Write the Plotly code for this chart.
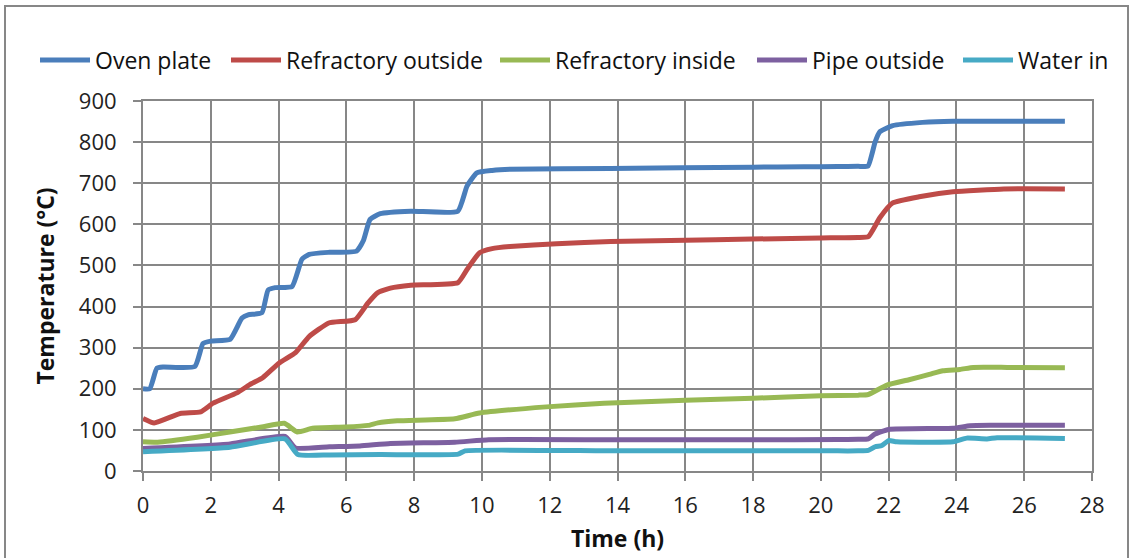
import plotly.graph_objects as go

# Measured temperatures during the heating run (time in hours, temperature in °C)
oven_plate_t = [0, 0.2, 0.41, 0.6, 1.53, 1.77, 2.0, 2.57, 2.92, 3.1, 3.51, 3.69, 3.9, 4.4, 4.69, 4.9, 5.5,
                6.3, 6.5, 6.7, 7.0, 7.9, 9.29, 9.56, 9.85, 10.3, 10.83, 13.78, 18, 19.5, 20.5, 21.1,
                21.39, 21.6, 21.74, 22.12, 23, 23.9, 27.2]
oven_plate_v = [200, 200, 250, 253, 254, 310, 316, 320, 372, 380, 385, 440, 446, 449, 515, 527, 532,
                535, 560, 612, 626, 632, 632, 693, 725, 731, 734, 736, 739, 740, 740.5, 741,
                742, 800, 825, 840, 848, 851, 851]

refractory_out_t = [0, 0.33, 1.1, 1.7, 2.07, 2.77, 3.15, 3.53, 4.02, 4.5, 4.9, 5.48, 6.26, 6.64, 6.93,
                    7.3, 7.9, 9.29, 9.56, 9.93, 10.3, 10.83, 12.2, 13.8, 20, 20.6, 21.1, 21.4, 21.74,
                    22.12, 22.9, 23.9, 25.4, 27.2]
refractory_out_v = [128, 117, 140, 144, 165, 190, 210, 227, 263, 288, 327, 360, 368, 409, 434,
                    445, 452, 458, 490, 531, 541, 546, 553, 558, 567, 567.5, 568, 570, 616,
                    652, 667, 679, 686, 686]

refractory_in_t = [0, 0.43, 1.6, 2.56, 3.5, 4.17, 4.55, 5.0, 5.97, 6.64, 6.93, 7.5, 9.2, 9.93, 11.9,
                   13.6, 16, 18, 20, 21.1, 21.4, 21.95, 22.6, 23.2, 23.6, 24.1, 24.5, 25.5, 27.2]
refractory_in_v = [71, 70, 82, 95, 107, 116, 95, 104, 107, 111, 117, 122, 127, 141, 156,
                   165, 172, 177, 183, 184.5, 186, 209, 222, 235, 244, 247, 252, 252, 251]

pipe_out_t = [0, 2.57, 4.19, 4.5, 5.5, 6.4, 7.3, 9.2, 10.2, 13.8, 18, 20.5, 21.1, 21.4, 21.6, 22.0,
              23.9, 24.4, 25, 27.2]
pipe_out_v = [55, 66, 84, 56, 59, 61, 67, 70, 76, 76, 76, 76.5, 77, 78, 90, 101,
              104, 110, 111, 111]

water_in_t = [0, 2.57, 4.19, 4.57, 5.5, 7, 9.3, 9.5, 13.8, 18, 20.5, 21.1, 21.4, 21.6, 21.8, 22.0,
              22.24, 23.9, 24.3, 24.9, 25.2, 27.2]
water_in_v = [47, 58, 78, 40, 39, 40, 41, 49, 49, 49, 49, 49, 50, 59, 62, 74,
              71, 71, 80, 78, 81, 79]

series_names = ["Oven plate", "Refractory outside", "Refractory inside", "Pipe outside", "Water in"]
series_times = [oven_plate_t, refractory_out_t, refractory_in_t, pipe_out_t, water_in_t]
series_values = [oven_plate_v, refractory_out_v, refractory_in_v, pipe_out_v, water_in_v]
series_colors = ["#4A7EBB", "#BE4B48", "#98B954", "#7D60A0", "#46AAC5"]

x_ticks = list(range(0, 29, 2))
y_ticks = list(range(0, 901, 100))

FONT = "Open Sans, Liberation Sans, sans-serif"
GRID = "#878787"

# plot-area geometry in pixels (used to place the key above the plot)
W, H = 1133, 558
M_L, M_R, M_T, M_B = 143, 41, 101, 87
PW, PH = W - M_L - M_R, H - M_T - M_B


def px_to_paper_x(px):
    return (px - M_L) / PW


def px_to_paper_y(py):
    return (H - M_B - py) / PH


fig = go.Figure()
for name, t, v, color in zip(series_names, series_times, series_values, series_colors):
    fig.add_trace(go.Scatter(
        x=t, y=v, name=name, mode="lines", showlegend=False,
        line=dict(color=color, width=5, shape="spline", smoothing=0.45),
    ))

axis_common = dict(
    showgrid=True, gridcolor=GRID, gridwidth=2,
    showline=True, linecolor=GRID, linewidth=2, mirror=True,
    ticks="outside", ticklen=8, tickwidth=1.5, tickcolor=GRID,
    tickfont=dict(family=FONT, size=22, color="#222222"),
    zeroline=False, automargin=False,
)

fig.update_xaxes(
    range=[0, 28], tickvals=x_ticks,
    title=dict(text="<b>Time (h)</b>", font=dict(family=FONT, size=23, color="#111111"), standoff=12),
    ticklabelstandoff=6,
    **axis_common,
)
fig.update_yaxes(
    range=[0, 900], tickvals=y_ticks,
    title=dict(text="<b>Temperature (°C)</b>", font=dict(family=FONT, size=23, color="#111111"), standoff=18),
    ticklabelstandoff=12,
    **axis_common,
)

# key above the plot: a short coloured stroke followed by the series name
key_left_px = [40, 231, 500, 757, 963]
key_y = px_to_paper_y(60)
for name, color, left in zip(series_names, series_colors, key_left_px):
    fig.add_shape(type="line", xref="paper", yref="paper",
                  x0=px_to_paper_x(left), x1=px_to_paper_x(left + 50), y0=key_y, y1=key_y,
                  line=dict(color=color, width=5))
    fig.add_annotation(xref="paper", yref="paper", x=px_to_paper_x(left + 53), y=key_y,
                       xanchor="left", yanchor="middle", showarrow=False, text=name,
                       font=dict(family=FONT, size=23, color="#111111"))

# outer chart frame
fig.add_shape(type="rect", xref="paper", yref="paper",
              x0=px_to_paper_x(5), x1=px_to_paper_x(1128), y0=px_to_paper_y(570), y1=px_to_paper_y(6),
              line=dict(color=GRID, width=2), fillcolor="rgba(0,0,0,0)", layer="below")

fig.update_layout(
    width=W, height=H,
    margin=dict(l=M_L, r=M_R, t=M_T, b=M_B),
    paper_bgcolor="white", plot_bgcolor="white",
)

fig.write_html("out.html")
